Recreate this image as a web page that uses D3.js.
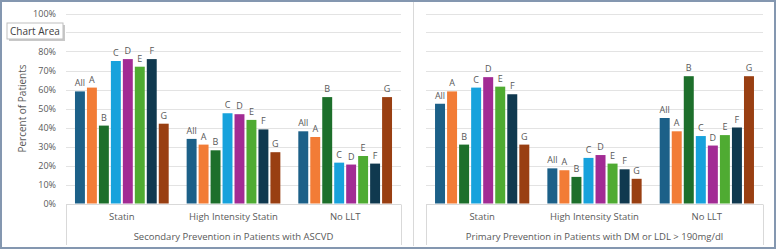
<!DOCTYPE html>
<html>
<head>
<meta charset="utf-8">
<script src="https://cdn.jsdelivr.net/npm/d3@7"></script>
<style>
  body { margin: 0; background: #fff; font-family: "Open Sans", "Noto Sans", sans-serif; }
  svg text { fill: #595959; }
</style>
</head>
<body>
<div id="chart"></div>
<script>
// series and categories
const groups = ["All", "A", "B", "C", "D", "E", "F", "G"];
const categories = ["Statin", "High Intensity Statin", "No LLT"];
const yTicks = [0, 10, 20, 30, 40, 50, 60, 70, 80, 90, 100];

// Secondary prevention (ASCVD), percent of patients
const secStatin = [59, 61, 41, 75, 76, 72, 76, 42];
const secHighStatin = [34, 31, 28, 47.5, 47, 44, 39, 27];
const secNoLLT = [38, 35, 56, 21.5, 20.5, 25, 21, 56];

// Primary prevention (DM or LDL > 190), percent of patients
const priStatin = [52.5, 59, 31, 61, 66.5, 61.5, 57.5, 31];
const priHighStatin = [18.5, 17.5, 14, 24, 25.5, 21, 18, 13];
const priNoLLT = [45, 38, 67, 35.5, 30.5, 36, 40, 67];

const colors = ["#1c6088", "#f27c36", "#1d6f2b", "#17a2dc", "#a22b94", "#4fab32", "#10394f", "#993f12"];

const panels = [
    { title: "Secondary Prevention in Patients with ASCVD", x0: 66, x1: 401, yAxis: true,
      values: [secStatin, secHighStatin, secNoLLT] },
    { title: "Primary Prevention in Patients with DM or LDL > 190mg/dl", x0: 426, x1: 763, yAxis: false,
      values: [priStatin, priHighStatin, priNoLLT] }
];

const W = 776, H = 251;
const svg = d3.select("#chart").append("svg")
    .attr("width", W)
    .attr("height", H);

svg.append("rect").attr("width", W).attr("height", H).attr("fill", "#fff");

const y = d3.scaleLinear().domain([0, 100]).range([203.5, 13.5]);

// divider between the two charts
svg.append("line")
    .attr("x1", 413.5).attr("x2", 413.5)
    .attr("y1", 2).attr("y2", 246)
    .attr("stroke", "#d9d9d9");

panels.forEach(p => {
    let g = svg.append("g");

    // gridlines
    g.selectAll(".grid")
        .data(yTicks.slice(1))
        .enter().append("line")
        .attr("x1", p.x0).attr("x2", p.x1)
        .attr("y1", d => Math.round(y(d)) + 0.5)
        .attr("y2", d => Math.round(y(d)) + 0.5)
        .attr("stroke", "#e3e3e3")
        .attr("stroke-width", 1);

    // category axis box
    let base = Math.round(y(0)) + 0.5;
    g.append("line")
        .attr("x1", p.x0).attr("x2", p.x1)
        .attr("y1", base).attr("y2", base)
        .attr("stroke", "#d9d9d9");
    [p.x0, p.x1].forEach(xx => {
        g.append("line")
            .attr("x1", xx + 0.5).attr("x2", xx + 0.5)
            .attr("y1", base).attr("y2", 245)
            .attr("stroke", "#d9d9d9");
    });

    let x0 = d3.scaleBand()
        .domain(categories)
        .range([p.x0, p.x1]);

    let x1 = d3.scaleBand()
        .domain(groups)
        .range([0, x0.bandwidth()])
        .paddingInner(0.17)
        .paddingOuter(0.75);

    categories.forEach((c, ci) => {
        let cg = g.append("g")
            .attr("transform", `translate(${x0(c)},0)`);

        let rows = groups.map((k, i) => ({ key: k, value: p.values[ci][i], color: colors[i] }));

        cg.selectAll("rect")
            .data(rows)
            .enter().append("rect")
            .attr("x", d => x1(d.key))
            .attr("y", d => y(d.value))
            .attr("width", x1.bandwidth())
            .attr("height", d => y(0) - y(d.value))
            .attr("fill", d => d.color);

        cg.selectAll(".lbl")
            .data(rows)
            .enter().append("text")
            .attr("x", d => x1(d.key) + x1.bandwidth() / 2)
            .attr("y", d => y(d.value) - 5)
            .attr("text-anchor", "middle")
            .style("font-size", "9px")
            .text(d => d.key);

        cg.append("text")
            .attr("x", x0.bandwidth() / 2)
            .attr("y", 220)
            .attr("text-anchor", "middle")
            .style("font-size", "9.5px")
            .text(c);
    });

    // panel title under the categories
    g.append("text")
        .attr("x", (p.x0 + p.x1) / 2)
        .attr("y", 240)
        .attr("text-anchor", "middle")
        .style("font-size", "9.5px")
        .text(p.title);

    if (p.yAxis) {
        g.selectAll(".ytick")
            .data(yTicks)
            .enter().append("text")
            .attr("x", 56)
            .attr("y", d => y(d) + 3)
            .attr("text-anchor", "end")
            .style("font-size", "9px")
            .text(d => d + "%");

        g.append("text")
            .attr("transform", `translate(26,${y(50)}) rotate(-90)`)
            .attr("text-anchor", "middle")
            .style("font-size", "10px")
            .text("Percent of Patients");
    }
});

// "Chart Area" hover tag
let tag = svg.append("g").attr("transform", "translate(7,23)");
tag.append("rect")
    .attr("x", 2).attr("y", 2)
    .attr("width", 56).attr("height", 16)
    .attr("fill", "#c8c8c8");
tag.append("rect")
    .attr("width", 56).attr("height", 16)
    .attr("fill", "#fff")
    .attr("stroke", "#bfbfbf");
tag.append("text")
    .attr("x", 3).attr("y", 12)
    .style("font-size", "10px")
    .style("fill", "#404040")
    .text("Chart Area");

// outer frame
svg.append("rect")
    .attr("x", 1).attr("y", 1)
    .attr("width", W - 2).attr("height", H - 4)
    .attr("fill", "none")
    .attr("stroke", "#8497b0")
    .attr("stroke-width", 2);
</script>
</body>
</html>
